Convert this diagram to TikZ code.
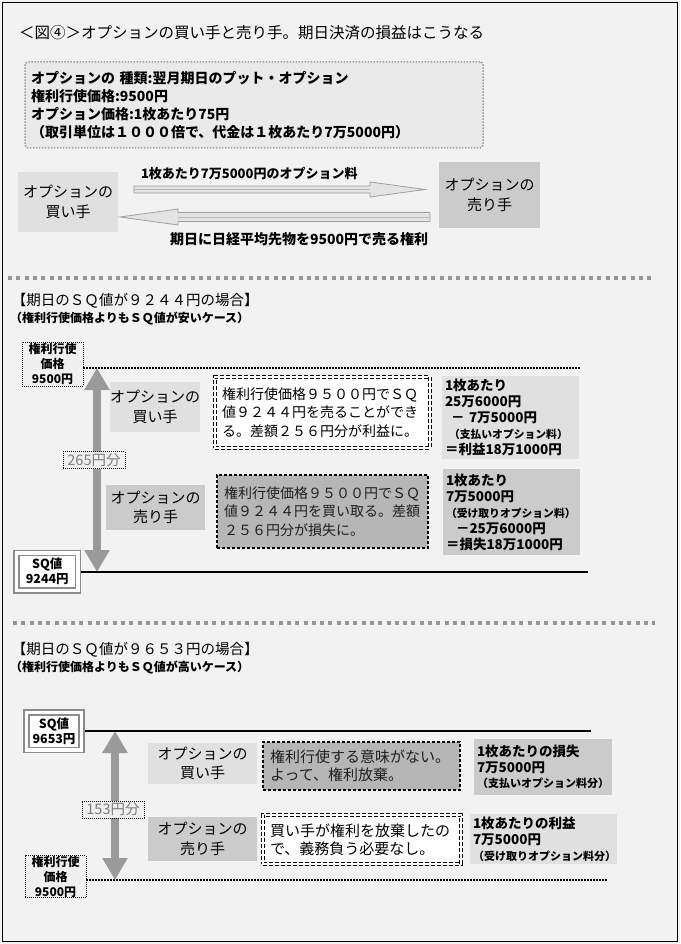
\documentclass[tikz,border=0pt]{standalone}
\usepackage{fontspec}
\setmainfont{Noto Sans CJK JP}
\usetikzlibrary{arrows.meta,calc}
\definecolor{bg}{HTML}{F2F2F2}
\definecolor{lite}{HTML}{E0E0E0}
\definecolor{infofill}{HTML}{EAEAEA}
\definecolor{dark}{HTML}{CBCBCB}
\definecolor{checker}{HTML}{B6B6B6}
\definecolor{arrowgray}{HTML}{9A9A9A}
\definecolor{sepgray}{HTML}{959595}
\definecolor{txtgray}{HTML}{7E7E7E}
\definecolor{pfill}{HTML}{F0F0F0}
\definecolor{hollowfill}{HTML}{E4E4E4}
\newcommand\fs[2]{\fontsize{#1}{#2}\selectfont}
\begin{document}
\begin{tikzpicture}[x=1pt,y=-1pt,
  every node/.style={inner sep=0pt,outer sep=0pt},
  role/.style={font=\fs{15}{19.5}, align=center},
  litebox/.style={role, fill=lite},
  darkbox/.style={role, fill=dark},
  wbox/.style={align=left, fill=white, draw=black, line width=1pt, double=white, double distance=1.3pt, dash pattern=on 4pt off 2pt, inner xsep=7pt},
  tbox/.style={align=left, fill=checker, draw=black, line width=2.8pt, dash pattern=on 2.8pt off 2.2pt, text=black!88, inner xsep=7pt},
  calcbox/.style={font=\bfseries\fs{13.5}{16}, align=left, inner xsep=3pt},
  infobox/.style={draw=gray!75, line width=1.5pt, dash pattern=on 1.5pt off 1.5pt, rounded corners=3pt, fill=infofill, inner xsep=6pt, align=left, font=\bfseries\fs{14}{17.8}},
  pbox/.style={draw=black, line width=0.8pt, dash pattern=on 0.8pt off 1.2pt, fill=pfill, align=center, font=\bfseries\fs{12}{15}},
  sqbox/.style={draw=black!45, line width=1.5pt, double=white, double distance=3.2pt, fill=white, align=center, font=\bfseries\fs{12.5}{15}},
  difflab/.style={draw=black, line width=0.7pt, dash pattern=on 0.7pt off 1.3pt, fill=pfill, text=txtgray, font=\fs{14.5}{15}},
  hollow/.style={fill=hollowfill, draw=gray!75, line width=0.8pt, line join=miter},
  varrow/.style={line width=8pt, draw=arrowgray, {Triangle[width=24pt,length=22pt]}-{Triangle[width=24pt,length=22pt]}},
  sepline/.style={draw=sepgray, line width=4pt, dash pattern=on 4pt off 4.3pt},
  dotline/.style={draw=black, line width=1.5pt, dash pattern=on 1.5pt off 1.5pt},
  solidline/.style={draw=black, line width=2pt}
]
\useasboundingbox (0,0) rectangle (680,944);
\fill[bg] (0,0) rectangle (680,944);

% ---------- title and info ----------
\node[anchor=west, font=\fs{15.5}{18}] (title) at (19,33) {＜図④＞オプションの買い手と売り手。期日決済の損益はこうなる};
\node[infobox, anchor=north west, text width=446pt, minimum height=86pt] (info) at (25,62)
  {オプションの 種類:翌月期日のプット・オプション\\権利行使価格:9500円\\オプション価格:1枚あたり75円\\（取引単位は１０００倍で、代金は１枚あたり7万5000円）};

% ---------- buyer / seller overview ----------
\node[litebox, minimum width=100pt, minimum height=60pt] (tbuy) at (68,202) {オプションの\\買い手};
\node[darkbox, minimum width=101pt, minimum height=66pt] (tsell) at (489.5,195) {オプションの\\売り手};
\coordinate (ra) at (134,189.5);
\coordinate (rb) at (425,189.5);
\coordinate (la) at (430,217);
\coordinate (lb) at (120,217);
\path[hollow] ($(ra)+(0,-3.5)$) -- ($(rb)+(-55,-3.5)$) -- ($(rb)+(-55,-7.5)$) -- (rb) -- ($(rb)+(-55,7.5)$) -- ($(rb)+(-55,3.5)$) -- ($(ra)+(0,3.5)$) -- cycle;
\draw[gray!55, line width=0.6pt] (ra) -- ($(rb)+(-55,0)$);
\path[hollow] ($(la)+(0,-4.5)$) -- ($(lb)+(58,-4.5)$) -- ($(lb)+(58,-8)$) -- (lb) -- ($(lb)+(58,8)$) -- ($(lb)+(58,4.5)$) -- ($(la)+(0,4.5)$) -- cycle;
\draw[gray!55, line width=0.6pt] (la) -- ($(lb)+(58,0)$);
\node[anchor=west, font=\bfseries\fs{13}{15}] (lab1) at (141,174) {1枚あたり7万5000円のオプション料};
\node[anchor=west, font=\bfseries\fs{14}{16}] (lab2) at (170,239) {期日に日経平均先物を9500円で売る権利};

\draw[sepline] (8,278) -- (655,278);

% ---------- case 1 ----------
\node[anchor=west, font=\fs{14.5}{17}] (h1) at (12,301) {【期日のＳＱ値が９２４４円の場合】};
\node[anchor=west, font=\bfseries\fs{12}{14}] (sh1) at (10,318) {（権利行使価格よりもＳＱ値が安いケース）};

\coordinate (l1e) at (580,368);
\coordinate (s1e) at (588,572);
\coordinate (v1t) at (97,368);
\coordinate (v1b) at (97,572);
\node[pbox, minimum width=61pt, minimum height=44pt] (pb1) at (52.5,364) {権利行使\\価格\\9500円};
\draw[dotline] (pb1.east |- l1e) -- (l1e);
\draw[solidline] (47,572) -- (s1e);
\node[sqbox, minimum width=61.5pt, minimum height=37.5pt] (sq1) at (47.25,571.75) {SQ値\\9244円};
\draw[varrow] (v1t) -- (v1b);
\node[difflab, minimum width=62pt, minimum height=17pt] (d1) at (94,460) {265円分};

\node[litebox, minimum width=90pt, minimum height=50pt] (b1) at (155,407) {オプションの\\買い手};
\node[wbox, font=\fs{14}{18.5}, text width=201pt, minimum height=71pt] (w1) at (322.5,412.5)
  {権利行使価格９５００円でＳＱ\\値９２４４円を売ることができ\\る。差額２５６円分が利益に。};
\node[calcbox, fill=lite, text width=131pt, minimum height=83pt] (r1) at (510.5,417.5)
  {1枚あたり\\25万6000円\\\hspace*{6pt}－ 7万5000円\\{\fs{10.8}{16}\hspace*{4pt}（支払いオプション料）}\\＝利益18万1000円};

\node[darkbox, minimum width=99pt, minimum height=45pt] (s1) at (155.5,507.5) {オプションの\\売り手};
\node[tbox, font=\fs{14}{18.5}, text width=197pt, minimum height=73pt] (t1) at (322.5,511.5)
  {権利行使価格９５００円でＳＱ\\値９２４４円を買い取る。差額\\２５６円分が損失に。};
\node[calcbox, fill=dark, text width=131pt, minimum height=86pt] (r2) at (511.5,512)
  {1枚あたり\\7万5000円\\{\fs{10.8}{16}（受け取りオプション料）}\\\hspace*{10pt}－25万6000円\\＝損失18万1000円};

\draw[sepline] (13,623) -- (655,623);

% ---------- case 2 ----------
\node[anchor=west, font=\fs{14.5}{17}] (h2) at (12,650) {【期日のＳＱ値が９６５３円の場合】};
\node[anchor=west, font=\bfseries\fs{12}{14}] (sh2) at (10,667) {（権利行使価格よりもＳＱ値が高いケース）};

\coordinate (s2e) at (591,731);
\coordinate (l2e) at (608,880);
\coordinate (v2t) at (115,731);
\coordinate (v2b) at (115,880);
\draw[solidline] (54,731) -- (s2e);
\node[sqbox, minimum width=55pt, minimum height=37.5pt] (sq2) at (54,731.25) {SQ値\\9653円};
\node[pbox, minimum width=61pt, minimum height=42pt] (pb2) at (55.5,876.5) {権利行使\\価格\\9500円};
\draw[dotline] (pb2.east |- l2e) -- (l2e);
\draw[varrow] (v2t) -- (v2b);
\node[difflab, minimum width=62pt, minimum height=17pt] (d2) at (113,809.5) {153円分};

\node[litebox, minimum width=109pt, minimum height=41pt] (b2) at (202.5,763.5) {オプションの\\買い手};
\node[tbox, font=\fs{15}{18}, text width=183pt, minimum height=48pt] (t2) at (361.5,766)
  {権利行使する意味がない。\\よって、権利放棄。};
\node[calcbox, fill=dark, font=\bfseries\fs{13.5}{15.5}, text width=132pt, minimum height=56pt] (r3) at (543,767)
  {1枚あたりの損失\\7万5000円\\{\fs{11}{15.5}（支払いオプション料分）}};

\node[darkbox, minimum width=109pt, minimum height=44pt] (s2) at (202.5,839) {オプションの\\売り手};
\node[wbox, font=\fs{15}{18}, text width=184pt, minimum height=49pt] (w2) at (362,839.5)
  {買い手が権利を放棄したの\\で、義務負う必要なし。};
\node[calcbox, fill=lite, font=\bfseries\fs{13.5}{16}, text width=141pt, minimum height=50pt] (r4) at (543.5,839)
  {1枚あたりの利益\\7万5000円\\{\fs{11}{16}（受け取りオプション料分）}};

% ---------- frame ----------
\draw[black, line width=1pt] (2.5,2.5) rectangle (677.5,941.5);
\end{tikzpicture}
\end{document}
